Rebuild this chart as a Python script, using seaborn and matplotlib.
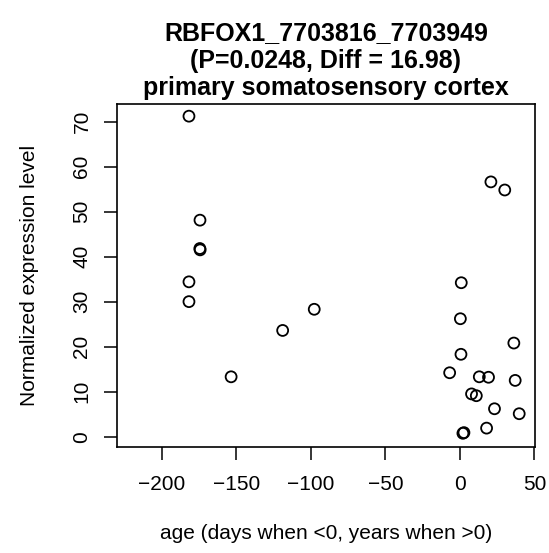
import numpy as np
import pandas as pd
import matplotlib
matplotlib.use("Agg")
import matplotlib.pyplot as plt
import seaborn as sns

# values
age = [-181.9, -174.5, -174.6, -174.4, -181.9, -181.9, -153.6, -119.0, -97.8,
       20.8, 30.1, 0.9, 0.3, 36.2, 0.7, -6.9, 13.0, 19.2, 37.1,
       7.8, 11.0, 23.2, 39.8, 17.9, 2.0, 2.7]
expr = [71.2, 48.1, 41.8, 41.5, 34.4, 30.0, 13.3, 23.6, 28.3,
        56.6, 54.8, 34.2, 26.2, 20.8, 18.3, 14.2, 13.3, 13.2, 12.5,
        9.5, 9.1, 6.2, 5.1, 1.9, 0.75, 0.9]
x_ticks = [-200, -150, -100, -50, 0, 50]
y_ticks = [0, 10, 20, 30, 40, 50, 60, 70]

sns.set_style("ticks")
plt.rcParams["font.family"] = ["Liberation Sans", "DejaVu Sans"]
plt.rcParams["text.color"] = "black"
plt.rcParams["axes.labelcolor"] = "black"

df = pd.DataFrame({"age": age, "expr": expr})

fig = plt.figure(figsize=(5.49, 5.53), dpi=100)
ax = fig.add_axes([0.2126, 0.1922, 0.7619, 0.6197])
sns.scatterplot(data=df, x="age", y="expr", ax=ax, marker="o", s=62,
                facecolor="none", edgecolor="black", linewidth=1.3)

ax.set_xlim(-230.4, 50.4)
ax.set_ylim(-2.23, 73.9)
ax.set_xticks(x_ticks)
ax.set_xticklabels([str(t).replace("-", "\u2212") for t in x_ticks])
ax.set_yticks(y_ticks)
ax.set_yticklabels([str(t) for t in y_ticks], rotation=90, va="center")
ax.tick_params(axis="both", length=9.5, width=1.1, colors="black", labelsize=15)
ax.tick_params(axis="x", pad=11)
ax.tick_params(axis="y", pad=8.7)
for sp in ax.spines.values():
    sp.set_visible(True)
    sp.set_color("black")
    sp.set_linewidth(1.2)
ax.grid(False)

ax.set_xlabel("age (days when <0, years when >0)", fontsize=15, color="black")
ax.set_ylabel("Normalized expression level", fontsize=15, color="black")
ax.xaxis.set_label_coords(0.5, -0.2518)
ax.xaxis.label.set_va("center")
ax.yaxis.set_label_coords(-0.2085, 0.5)
ax.yaxis.label.set_va("center")
ax.set_title("RBFOX1_7703816_7703949\n(P=0.0248, Diff = 16.98)\nprimary somatosensory cortex",
             fontsize=18, fontweight="bold", linespacing=1.19, pad=6.3, color="black")

fig.savefig("out.png", dpi=100)
